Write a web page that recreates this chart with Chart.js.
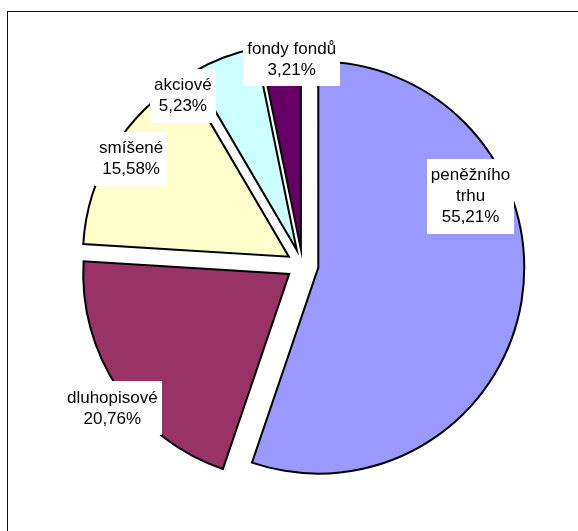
<!DOCTYPE html>
<html>
<head>
<meta charset="utf-8">
<script src="https://cdn.jsdelivr.net/npm/chart.js@4.4.1/dist/chart.umd.min.js"></script>
<style>
  html, body { margin: 0; padding: 0; background: #fff; overflow: hidden; }
  #wrap { position: relative; width: 578px; height: 531px; }
  #frame { position: absolute; left: 7px; top: 11px; width: 640px; height: 600px; border: 1px solid #111; }
  #chart { position: absolute; left: 0; top: 0; }
</style>
</head>
<body>
<div id="wrap">
  <div id="frame"></div>
  <canvas id="chart" width="578" height="531"></canvas>
</div>
<script>
// Data
const categories = ['peněžního trhu', 'dluhopisové', 'smíšené', 'akciové', 'fondy fondů'];
const shares = [55.21, 20.76, 15.58, 5.23, 3.21];
const sliceColors = ['#9999FF', '#993366', '#FFFFCC', '#CCFFFF', '#660066'];

function formatShare(v) {
  return v.toFixed(2).replace('.', ',') + '%';
}

function wrapText(ctx, text, maxWidth) {
  const words = text.split(' ');
  const lines = [];
  let line = '';
  words.forEach(w => {
    const test = line ? line + ' ' + w : w;
    if (line && ctx.measureText(test).width > maxWidth) {
      lines.push(line);
      line = w;
    } else {
      line = test;
    }
  });
  if (line) lines.push(line);
  return lines;
}

// Pull every slice away from the centre (Excel style explode)
const explodePlugin = {
  id: 'explode',
  afterDatasetsUpdate(chart, args, opts) {
    chart.getDatasetMeta(0).data.forEach(arc => {
      const mid = (arc.startAngle + arc.endAngle) / 2;
      arc.x += Math.cos(mid) * opts.distance;
      arc.y += Math.sin(mid) * opts.distance;
    });
  }
};

// Category + percentage labels on white boxes
const sliceLabelPlugin = {
  id: 'sliceLabels',
  afterDatasetsDraw(chart, args, opts) {
    const ctx = chart.ctx;
    const area = chart.chartArea;
    const cx = (area.left + area.right) / 2;
    const cy = (area.top + area.bottom) / 2;
    const meta = chart.getDatasetMeta(0);
    ctx.save();
    ctx.font = opts.font;
    ctx.textAlign = 'center';
    ctx.textBaseline = 'alphabetic';
    meta.data.forEach((arc, i) => {
      const place = opts.placement[i];
      const a = (place.angle - 90) * Math.PI / 180;
      const r = arc.outerRadius * place.distance;
      const x = cx + Math.cos(a) * r;
      const y = cy + Math.sin(a) * r;
      const lines = wrapText(ctx, chart.data.labels[i], opts.maxWidth);
      lines.push(formatShare(chart.data.datasets[0].data[i]));
      const lh = opts.lineHeight;
      const w = Math.max(...lines.map(l => ctx.measureText(l).width)) + 8;
      const h = lines.length * lh + 12;
      const top = y - lines.length * lh / 2 - 5;
      ctx.fillStyle = '#fff';
      ctx.fillRect(Math.round(x - w / 2), Math.round(top), Math.round(w), Math.round(h));
      ctx.fillStyle = '#000';
      lines.forEach((l, k) => {
        const lineCenter = y - (lines.length - 1) * lh / 2 + k * lh;
        ctx.fillText(l, x, lineCenter + 6);
      });
    });
    ctx.restore();
  }
};

new Chart(document.getElementById('chart'), {
  type: 'pie',
  data: {
    labels: categories,
    datasets: [{
      data: shares,
      backgroundColor: sliceColors,
      borderColor: '#000',
      borderWidth: 2,
      borderJoinStyle: 'miter',
      radius: 206
    }]
  },
  options: {
    responsive: false,
    animation: false,
    events: [],
    layout: { padding: { left: 27, top: 0, right: 0, bottom: 1 } },
    plugins: {
      legend: { display: false },
      tooltip: { enabled: false },
      explode: { distance: 16 },
      sliceLabels: {
        font: '17px "Liberation Sans", Arial, sans-serif',
        lineHeight: 21,
        maxWidth: 100,
        placement: [
          { angle: 67.5, distance: 0.883 },
          { angle: 233.2, distance: 1.153 },
          { angle: 302, distance: 0.981 },
          { angle: 324.9, distance: 1.01 },
          { angle: 357, distance: 1.005 }
        ]
      }
    }
  },
  plugins: [explodePlugin, sliceLabelPlugin]
});
</script>
</body>
</html>
